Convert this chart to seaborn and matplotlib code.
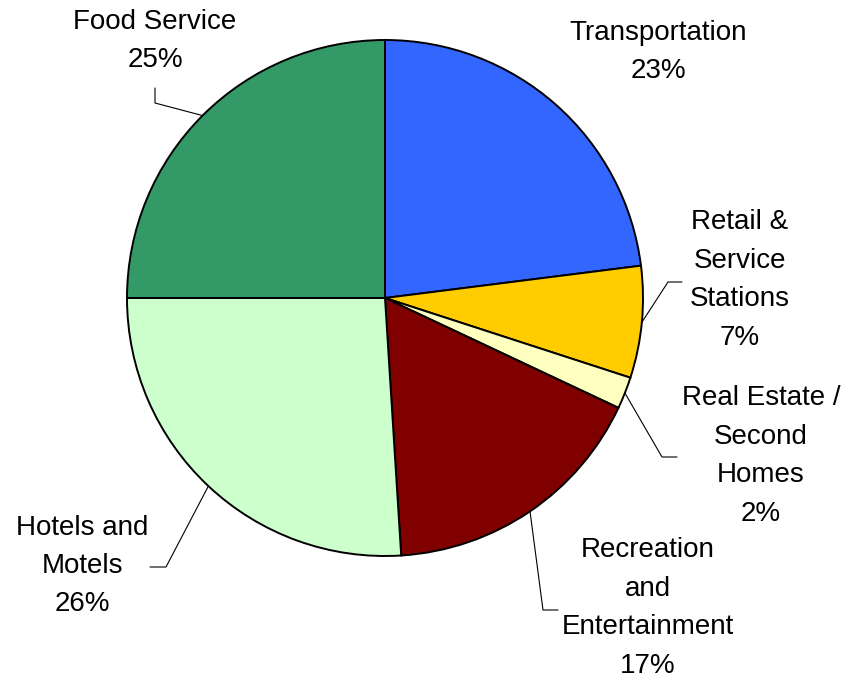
import numpy as np
import matplotlib
matplotlib.use("Agg")
import matplotlib.pyplot as plt
import seaborn as sns

# Share of spending by sector (%)
sectors = ["Transportation", "Retail &\nService\nStations", "Real Estate /\nSecond\nHomes",
           "Recreation\nand\nEntertainment", "Hotels and\nMotels", "Food Service"]
shares = [23, 7, 2, 17, 26, 25]
colors = ["#3366FF", "#FFCC00", "#FFFFC0", "#800000", "#CCFFCC", "#339966"]

# Label placement (pixel-like layout coordinates, y measured from top)
label_xy = [(658, 52), (740, 280), (761, 456), (648, 608), (82, 566), (155, 41)]
# Leader line elbows (None = no leader line)
elbows = [None, [(668, 282), (682, 282)], [(662, 457), (677, 457)],
          [(543, 610), (558, 610)], [(166, 567), (150, 567)], [(155, 103), (155, 88)]]

sns.set_theme(style="white")
plt.rcParams["font.family"] = ["Liberation Sans", "DejaVu Sans"]

W, H = 852, 677
fig = plt.figure(figsize=(W / 100, H / 100), dpi=100)
ax = fig.add_axes([0, 0, 1, 1])

cx, cy, r = 385, H - 298, 258
wedges, _ = ax.pie(shares, colors=colors, startangle=90, counterclock=False,
                   center=(cx, cy), radius=r, frame=True,
                   wedgeprops=dict(edgecolor="black", linewidth=1.4))
ax.set_xlim(0, W)
ax.set_ylim(0, H)
ax.set_aspect("equal")
ax.axis("off")

for w, name, val, (lx, ly), elb in zip(wedges, sectors, shares, label_xy, elbows):
    ax.text(lx, H - ly, f"{name}\n{val}%", ha="center", va="center",
            fontsize=20, linespacing=1.62, color="black")
    if elb is not None:
        mid = np.deg2rad((w.theta1 + w.theta2) / 2)
        px, py = cx + r * np.cos(mid), cy + r * np.sin(mid)
        xs = [px] + [e[0] for e in elb]
        ys = [py] + [H - e[1] for e in elb]
        ax.plot(xs, ys, color="black", linewidth=0.8)

fig.savefig("out.png", dpi=100, facecolor="white")
